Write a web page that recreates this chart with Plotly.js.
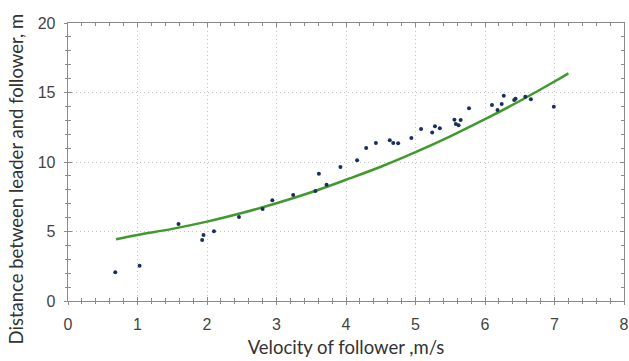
<!DOCTYPE html>
<html>
<head>
<meta charset="utf-8">
<script src="https://cdn.plot.ly/plotly-3.0.1.min.js"></script>
<style>html,body{margin:0;padding:0;background:#fff;}#chart{width:629px;height:361px;}</style>
</head>
<body>
<div id="chart"></div>
<script>
const velocity = [0.68,1.03,1.59,1.93,1.95,2.10,2.46,2.80,2.94,3.24,3.56,3.61,3.72,3.92,4.16,4.29,4.43,4.63,4.68,4.75,4.94,5.08,5.24,5.28,5.35,5.56,5.58,5.62,5.65,5.77,6.10,6.18,6.24,6.27,6.42,6.44,6.58,6.66,6.99];
const distance = [2.07,2.54,5.54,4.39,4.75,5.01,6.04,6.62,7.24,7.63,7.91,9.16,8.37,9.64,10.12,11.00,11.37,11.56,11.37,11.35,11.73,12.37,12.13,12.57,12.42,13.04,12.73,12.64,13.02,13.86,14.10,13.74,14.17,14.77,14.46,14.55,14.70,14.51,13.98];
const fitVelocity = [0.69,1.0,1.5,2.0,2.5,3.0,3.5,4.0,4.5,5.0,5.5,6.0,6.5,7.0,7.2];
const fitDistance = [4.44,4.75,5.19,5.71,6.33,7.03,7.82,8.72,9.66,10.71,11.85,13.08,14.39,15.79,16.38];
const xTicks = [0,1,2,3,4,5,6,7,8];
const yTicks = [0,5,10,15,20];
const xTitle = 'Velocity of follower ,m/s';
const yTitle = 'Distance between leader and follower, m';

const traces = [
  {x: fitVelocity, y: fitDistance, type: 'scatter', mode: 'lines',
   line: {color: '#3f9a2c', width: 2.5, shape: 'spline'}, hoverinfo: 'skip'},
  {x: velocity, y: distance, type: 'scatter', mode: 'markers',
   marker: {color: '#1b2f5e', size: 4}},
  {x: [], y: [], xaxis: 'x2', yaxis: 'y2', type: 'scatter', mode: 'markers', hoverinfo: 'skip'}
];

const gray = '#8a8a8a';
const titleFont = {family: 'Lato, Open Sans, sans-serif', size: 18.5, color: '#333'};
const tickFont = {family: 'Liberation Sans, Arial, sans-serif', size: 16, color: '#444'};

const axisCommon = {
  showline: true, linecolor: gray, linewidth: 1.3, mirror: 'allticks',
  ticks: 'inside', ticklen: 4, tickcolor: gray, tickwidth: 1,
  showgrid: true, gridcolor: '#c4c4c4', griddash: '1px,3px', gridwidth: 1,
  zeroline: false, tickfont: tickFont, ticklabelstandoff: 8,
  fixedrange: true
};

const layout = {
  width: 629, height: 361,
  margin: {l: 68, r: 5, t: 23, b: 60},
  paper_bgcolor: '#fff', plot_bgcolor: '#fff',
  showlegend: false,
  xaxis: Object.assign({}, axisCommon, {
    range: [0, 8], tickvals: xTicks, ticktext: xTicks.map(String),
    minor: {dtick: 0.2, ticks: 'inside', ticklen: 3, tickcolor: gray, showgrid: false},
    title: {text: xTitle, font: titleFont, standoff: 9}
  }),
  yaxis: Object.assign({}, axisCommon, {
    range: [0, 20], tickvals: yTicks, ticktext: yTicks.map(String),
    minor: {dtick: 1, ticks: 'inside', ticklen: 3, tickcolor: gray, showgrid: false}
  }),
  xaxis2: {
    overlaying: 'x', anchor: 'y2', side: 'bottom', range: [0, 8], tickvals: xTicks,
    showticklabels: false, ticks: 'outside', ticklen: 3, tickcolor: gray, tickwidth: 1,
    minor: {dtick: 0.2, ticks: 'outside', ticklen: 2, tickcolor: gray, showgrid: false},
    showgrid: false, zeroline: false, showline: false, fixedrange: true
  },
  yaxis2: {
    overlaying: 'y', anchor: 'x2', side: 'left', range: [0, 20], tickvals: yTicks,
    showticklabels: false, ticks: 'outside', ticklen: 3, tickcolor: gray, tickwidth: 1,
    minor: {dtick: 1, ticks: 'outside', ticklen: 2, tickcolor: gray, showgrid: false},
    showgrid: false, zeroline: false, showline: false, fixedrange: true
  },
  annotations: [{
    text: yTitle, textangle: -90, font: titleFont, showarrow: false,
    xref: 'paper', yref: 'paper', x: -0.094, y: 0.44, xanchor: 'center', yanchor: 'middle'
  }]
};

Plotly.newPlot('chart', traces, layout, {staticPlot: true, displayModeBar: false});
</script>
</body>
</html>
